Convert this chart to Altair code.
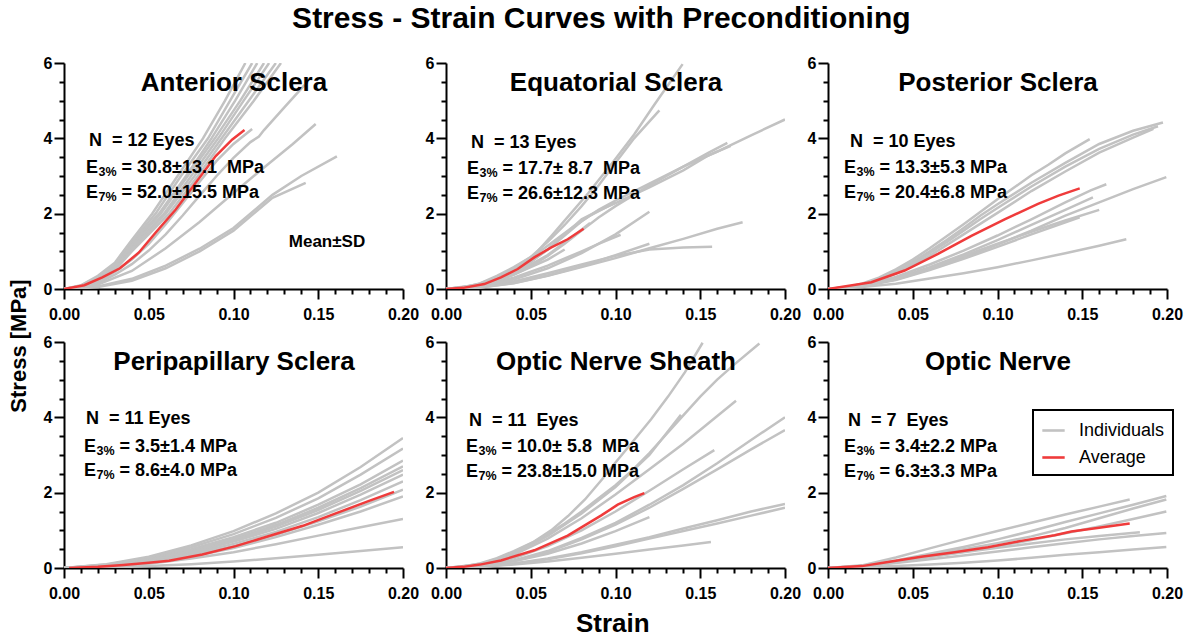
import altair as alt
import pandas as pd

FONT = "Liberation Sans"
GRAY = "#c2c2c2"
RED = "#ef3b3b"
KINDS = ["Individuals", "Average"]

X_TICKS = [0.00, 0.01, 0.02, 0.03, 0.04, 0.05, 0.06, 0.07, 0.08, 0.09, 0.10,
           0.11, 0.12, 0.13, 0.14, 0.15, 0.16, 0.17, 0.18, 0.19, 0.20]
Y_TICKS = [0, 0.5, 1, 1.5, 2, 2.5, 3, 3.5, 4, 4.5, 5, 5.5, 6]

# ---------------- Anterior Sclera ----------------
ANTERIOR_IND = [
    [[0, 0], [0.01, 0.1], [0.02, 0.35], [0.03, 0.7], [0.04, 1.3], [0.052, 2.0], [0.067, 3.0], [0.082, 4.0], [0.095, 5.0], [0.107, 6.0]],
    [[0, 0], [0.01, 0.09], [0.02, 0.32], [0.03, 0.66], [0.04, 1.25], [0.054, 2.0], [0.069, 3.0], [0.085, 4.0], [0.098, 5.0], [0.111, 6.0]],
    [[0, 0], [0.01, 0.08], [0.02, 0.3], [0.03, 0.62], [0.04, 1.2], [0.056, 2.0], [0.072, 3.0], [0.087, 4.0], [0.101, 5.0], [0.114, 6.0]],
    [[0, 0], [0.01, 0.07], [0.02, 0.27], [0.03, 0.58], [0.04, 1.15], [0.057, 2.0], [0.073, 3.0], [0.089, 4.0], [0.104, 5.0], [0.118, 6.0]],
    [[0, 0], [0.01, 0.07], [0.02, 0.25], [0.03, 0.55], [0.04, 1.1], [0.059, 2.0], [0.075, 3.0], [0.091, 4.0], [0.106, 5.0], [0.121, 6.0]],
    [[0, 0], [0.01, 0.06], [0.02, 0.24], [0.03, 0.52], [0.04, 1.05], [0.06, 2.0], [0.077, 3.0], [0.093, 4.0], [0.109, 5.0], [0.125, 6.0]],
    [[0, 0], [0.01, 0.06], [0.02, 0.22], [0.03, 0.5], [0.04, 1.0], [0.062, 2.0], [0.079, 3.0], [0.095, 4.0], [0.112, 5.0], [0.128, 6.0]],
    [[0, 0], [0.01, 0.05], [0.02, 0.2], [0.03, 0.45], [0.04, 0.78], [0.05, 1.2], [0.06, 1.72], [0.07, 2.28], [0.08, 2.85], [0.09, 3.4], [0.1, 3.85], [0.111, 4.25]],
    [[0, 0], [0.01, 0.04], [0.02, 0.16], [0.03, 0.38], [0.04, 0.66], [0.05, 1.02], [0.06, 1.45], [0.07, 1.95], [0.08, 2.48], [0.09, 3.0], [0.1, 3.48], [0.11, 3.9], [0.115, 4.05], [0.118, 4.22], [0.13, 4.82], [0.142, 5.42]],
    [[0, 0], [0.02, 0.12], [0.04, 0.48], [0.06, 1.08], [0.08, 1.78], [0.1, 2.55], [0.12, 3.3], [0.135, 3.85], [0.1485, 4.38]],
    [[0, 0], [0.02, 0.07], [0.04, 0.27], [0.06, 0.62], [0.08, 1.07], [0.1, 1.62], [0.123, 2.5], [0.14, 3.0], [0.161, 3.52]],
    [[0, 0], [0.02, 0.05], [0.04, 0.22], [0.06, 0.55], [0.08, 1.0], [0.1, 1.55], [0.123, 2.42], [0.1426, 2.82]],
]
ANTERIOR_AVG = [[0, 0], [0.012, 0.1], [0.0226, 0.31], [0.033, 0.55], [0.0442, 0.97], [0.0541, 1.5], [0.0659, 2.11],
                [0.0777, 2.82], [0.0895, 3.53], [0.0993, 3.97], [0.1065, 4.22]]

# ---------------- Equatorial Sclera ----------------
EQUATORIAL_IND = [
    [[0, 0], [0.01, 0.04], [0.02, 0.15], [0.03, 0.35], [0.04, 0.58], [0.052, 0.9], [0.062, 1.4], [0.072, 1.92], [0.084, 2.55], [0.099, 3.4], [0.111, 4.1], [0.123, 4.9], [0.1396, 5.97]],
    [[0, 0], [0.01, 0.04], [0.02, 0.14], [0.03, 0.32], [0.04, 0.55], [0.05, 0.85], [0.06, 1.25], [0.07, 1.7], [0.08, 2.2], [0.09, 2.75], [0.1, 3.35], [0.111, 4.0], [0.1259, 4.74]],
    [[0, 0], [0.01, 0.03], [0.02, 0.1], [0.03, 0.25], [0.04, 0.45], [0.05, 0.72], [0.06, 1.05], [0.07, 1.42], [0.08, 1.8], [0.09, 2.1], [0.1, 2.35], [0.12, 2.8], [0.14, 3.25], [0.16, 3.65], [0.18, 4.08], [0.2, 4.5]],
    [[0, 0], [0.02, 0.1], [0.03, 0.24], [0.04, 0.45], [0.05, 0.72], [0.06, 1.05], [0.07, 1.45], [0.08, 1.85], [0.09, 2.08], [0.1, 2.28], [0.12, 2.7], [0.14, 3.15], [0.155, 3.55], [0.168, 3.8]],
    [[0, 0], [0.02, 0.08], [0.03, 0.2], [0.04, 0.38], [0.05, 0.6], [0.06, 0.88], [0.07, 1.2], [0.08, 1.55], [0.09, 1.9], [0.1, 2.2], [0.12, 2.75], [0.14, 3.25], [0.155, 3.62], [0.166, 3.88]],
    [[0, 0], [0.02, 0.04], [0.04, 0.15], [0.06, 0.35], [0.08, 0.58], [0.1, 0.82], [0.12, 1.08], [0.14, 1.33], [0.16, 1.6], [0.175, 1.77]],
    [[0, 0], [0.02, 0.05], [0.04, 0.2], [0.06, 0.42], [0.08, 0.65], [0.1, 0.88], [0.12, 1.05], [0.14, 1.1], [0.157, 1.12]],
    [[0, 0], [0.02, 0.08], [0.04, 0.3], [0.06, 0.62], [0.08, 1.0], [0.09, 1.2], [0.103, 1.44]],
    [[0, 0], [0.02, 0.12], [0.04, 0.5], [0.06, 1.15], [0.075, 1.65], [0.085, 1.95], [0.1, 2.3]],
    [[0, 0], [0.02, 0.1], [0.04, 0.4], [0.06, 0.9], [0.075, 1.4], [0.085, 1.75]],
    [[0, 0], [0.02, 0.06], [0.04, 0.25], [0.06, 0.55], [0.08, 0.95], [0.1, 1.45], [0.12, 2.05]],
    [[0, 0], [0.02, 0.04], [0.04, 0.16], [0.06, 0.36], [0.08, 0.6], [0.1, 0.9], [0.12, 1.2]],
    [[0, 0], [0.02, 0.1], [0.04, 0.38], [0.06, 0.78], [0.07, 1.05]],
]
EQUATORIAL_AVG = [[0, 0], [0.01, 0.03], [0.0226, 0.13], [0.0324, 0.31], [0.0423, 0.53], [0.0521, 0.84],
                  [0.0619, 1.1], [0.0718, 1.32], [0.0812, 1.6]]

# ---------------- Posterior Sclera ----------------
POSTERIOR_IND = [
    [[0, 0], [0.01, 0.04], [0.02, 0.14], [0.03, 0.3], [0.04, 0.52], [0.05, 0.78], [0.06, 1.08], [0.07, 1.4], [0.08, 1.72], [0.09, 2.05], [0.1, 2.38], [0.11, 2.7], [0.12, 3.02], [0.13, 3.3], [0.14, 3.6], [0.1544, 3.98]],
    [[0, 0], [0.01, 0.03], [0.02, 0.12], [0.03, 0.27], [0.04, 0.47], [0.05, 0.72], [0.06, 1.0], [0.07, 1.3], [0.08, 1.62], [0.09, 1.95], [0.1, 2.25], [0.12, 2.82], [0.14, 3.35], [0.16, 3.85], [0.18, 4.2], [0.1976, 4.42]],
    [[0, 0], [0.01, 0.03], [0.02, 0.11], [0.03, 0.25], [0.04, 0.44], [0.05, 0.68], [0.06, 0.95], [0.07, 1.24], [0.08, 1.55], [0.09, 1.86], [0.1, 2.15], [0.12, 2.72], [0.14, 3.25], [0.16, 3.72], [0.18, 4.1], [0.1947, 4.32]],
    [[0, 0], [0.02, 0.1], [0.04, 0.4], [0.06, 0.88], [0.08, 1.45], [0.1, 2.02], [0.12, 2.6], [0.14, 3.12], [0.16, 3.62], [0.18, 4.02], [0.192, 4.25]],
    [[0, 0], [0.02, 0.09], [0.04, 0.32], [0.06, 0.65], [0.08, 1.02], [0.1, 1.42], [0.12, 1.85], [0.14, 2.3], [0.155, 2.62], [0.1642, 2.78]],
    [[0, 0], [0.02, 0.08], [0.04, 0.28], [0.06, 0.58], [0.08, 0.92], [0.1, 1.3], [0.12, 1.7], [0.14, 2.1], [0.1563, 2.43]],
    [[0, 0], [0.02, 0.07], [0.04, 0.25], [0.06, 0.52], [0.08, 0.84], [0.1, 1.18], [0.12, 1.55], [0.14, 1.95], [0.16, 2.3], [0.18, 2.65], [0.1996, 2.97]],
    [[0, 0], [0.02, 0.07], [0.04, 0.24], [0.06, 0.5], [0.08, 0.8], [0.1, 1.12], [0.12, 1.45], [0.1485, 1.9]],
    [[0, 0], [0.02, 0.08], [0.04, 0.27], [0.06, 0.55], [0.08, 0.88], [0.1, 1.2], [0.12, 1.52], [0.14, 1.82], [0.16, 2.1]],
    [[0, 0], [0.02, 0.05], [0.04, 0.14], [0.06, 0.28], [0.08, 0.42], [0.1, 0.58], [0.12, 0.76], [0.14, 0.95], [0.16, 1.15], [0.176, 1.32]],
]
POSTERIOR_AVG = [[0, 0], [0.0256, 0.18], [0.0452, 0.49], [0.0649, 0.93], [0.0846, 1.41], [0.1042, 1.85],
                 [0.1239, 2.26], [0.136, 2.48], [0.1485, 2.67]]

# ---------------- Peripapillary Sclera ----------------
PERI_STRAIN = [0, 0.025, 0.05, 0.075, 0.1, 0.125, 0.15, 0.175, 0.2]
PERI_STRESS = [
    [0, 0.1, 0.3, 0.6, 0.98, 1.45, 2.0, 2.68, 3.45],
    [0, 0.09, 0.27, 0.55, 0.9, 1.33, 1.85, 2.48, 3.17],
    [0, 0.08, 0.24, 0.5, 0.82, 1.2, 1.68, 2.22, 2.85],
    [0, 0.07, 0.22, 0.46, 0.77, 1.14, 1.6, 2.12, 2.7],
    [0, 0.07, 0.21, 0.44, 0.74, 1.1, 1.54, 2.05, 2.6],
    [0, 0.06, 0.19, 0.41, 0.7, 1.04, 1.46, 1.95, 2.48],
    [0, 0.06, 0.18, 0.38, 0.64, 0.96, 1.35, 1.8, 2.3],
    [0, 0.05, 0.16, 0.34, 0.58, 0.88, 1.24, 1.63, 2.08],
    [0, 0.05, 0.14, 0.3, 0.53, 0.82, 1.15, 1.5, 1.9],
    [0, 0.03, 0.11, 0.25, 0.42, 0.63, 0.86, 1.08, 1.3],
    [0, 0.01, 0.05, 0.1, 0.17, 0.26, 0.35, 0.45, 0.55],
]
PERI_AVG = [[0.003, 0], [0.02, 0.03], [0.035, 0.08], [0.05, 0.14], [0.062, 0.19], [0.0816, 0.36], [0.1013, 0.58],
            [0.121, 0.85], [0.1409, 1.12], [0.1603, 1.45], [0.18, 1.78], [0.1947, 2.02]]

# ---------------- Optic Nerve Sheath ----------------
ONS_IND = [
    [[0, 0], [0.01, 0.04], [0.02, 0.12], [0.03, 0.26], [0.04, 0.45], [0.052, 0.7], [0.062, 1.0], [0.072, 1.38], [0.082, 1.82], [0.092, 2.35], [0.1, 2.8], [0.111, 3.4], [0.121, 3.95], [0.131, 4.55], [0.141, 5.2], [0.1514, 5.98]],
    [[0, 0], [0.01, 0.04], [0.02, 0.11], [0.03, 0.24], [0.04, 0.42], [0.05, 0.65], [0.06, 0.9], [0.07, 1.18], [0.08, 1.5], [0.09, 1.85], [0.1, 2.2], [0.11, 2.6], [0.12, 3.05], [0.13, 3.55], [0.14, 4.05], [0.15, 4.55], [0.16, 5.0], [0.17, 5.4], [0.1849, 5.96]],
    [[0, 0], [0.02, 0.1], [0.04, 0.38], [0.06, 0.85], [0.08, 1.45], [0.1, 2.15], [0.12, 3.0], [0.1386, 4.07]],
    [[0, 0], [0.02, 0.09], [0.04, 0.35], [0.06, 0.78], [0.08, 1.32], [0.1, 1.95], [0.12, 2.62], [0.14, 3.3], [0.155, 3.85], [0.1711, 4.44]],
    [[0, 0], [0.02, 0.07], [0.04, 0.26], [0.06, 0.58], [0.08, 1.0], [0.1, 1.5], [0.12, 2.05], [0.14, 2.62], [0.1583, 3.13]],
    [[0, 0], [0.02, 0.06], [0.04, 0.2], [0.06, 0.45], [0.08, 0.8], [0.1, 1.2], [0.12, 1.68], [0.14, 2.2], [0.16, 2.78], [0.18, 3.4], [0.2, 4.0]],
    [[0, 0], [0.02, 0.05], [0.04, 0.18], [0.06, 0.42], [0.08, 0.76], [0.1, 1.15], [0.12, 1.6], [0.14, 2.1], [0.16, 2.62], [0.18, 3.15], [0.2, 3.66]],
    [[0, 0], [0.02, 0.04], [0.04, 0.12], [0.06, 0.25], [0.08, 0.42], [0.1, 0.62], [0.12, 0.82], [0.14, 1.05], [0.16, 1.27], [0.18, 1.5], [0.2, 1.7]],
    [[0, 0], [0.02, 0.03], [0.04, 0.11], [0.06, 0.23], [0.08, 0.39], [0.1, 0.58], [0.12, 0.78], [0.14, 0.98], [0.16, 1.18], [0.18, 1.39], [0.2, 1.6]],
    [[0, 0], [0.02, 0.03], [0.04, 0.09], [0.06, 0.17], [0.08, 0.27], [0.1, 0.38], [0.12, 0.49], [0.14, 0.6], [0.1563, 0.69]],
    [[0, 0], [0.02, 0.05], [0.04, 0.18], [0.06, 0.38], [0.08, 0.65], [0.1, 0.98], [0.12, 1.35]],
]
ONS_AVG = [[0, 0], [0.01, 0.03], [0.02, 0.09], [0.0324, 0.2], [0.0521, 0.47], [0.0718, 0.86], [0.0914, 1.39],
           [0.1013, 1.68], [0.111, 1.88], [0.117, 1.99]]

# ---------------- Optic Nerve ----------------
ON_IND = [
    [[0, 0], [0.02, 0.07], [0.04, 0.28], [0.06, 0.52], [0.08, 0.76], [0.1, 0.98], [0.12, 1.2], [0.14, 1.42], [0.16, 1.63], [0.178, 1.82]],
    [[0, 0], [0.02, 0.05], [0.04, 0.2], [0.06, 0.38], [0.08, 0.56], [0.1, 0.76], [0.12, 0.98], [0.14, 1.22], [0.16, 1.45], [0.18, 1.68], [0.1996, 1.91]],
    [[0, 0], [0.02, 0.05], [0.04, 0.18], [0.06, 0.34], [0.08, 0.5], [0.1, 0.66], [0.12, 0.84], [0.14, 1.06], [0.16, 1.32], [0.18, 1.58], [0.1996, 1.82]],
    [[0, 0], [0.02, 0.04], [0.04, 0.15], [0.06, 0.29], [0.08, 0.43], [0.1, 0.58], [0.12, 0.74], [0.14, 0.92], [0.16, 1.1], [0.18, 1.3], [0.1996, 1.5]],
    [[0, 0], [0.02, 0.05], [0.04, 0.17], [0.06, 0.3], [0.08, 0.42], [0.1, 0.54], [0.12, 0.65], [0.14, 0.76], [0.16, 0.85], [0.184, 0.95]],
    [[0, 0], [0.02, 0.04], [0.04, 0.13], [0.06, 0.23], [0.08, 0.33], [0.1, 0.44], [0.12, 0.55], [0.14, 0.66], [0.16, 0.76], [0.18, 0.85], [0.1996, 0.93]],
    [[0, 0], [0.02, 0.02], [0.04, 0.05], [0.06, 0.09], [0.08, 0.14], [0.1, 0.2], [0.12, 0.27], [0.14, 0.35], [0.16, 0.42], [0.18, 0.49], [0.1996, 0.56]],
]
ON_AVG = [[0, 0], [0.02, 0.05], [0.0354, 0.16], [0.055, 0.3], [0.0747, 0.42], [0.0944, 0.55], [0.114, 0.72],
          [0.1337, 0.87], [0.1436, 0.97], [0.16, 1.07], [0.178, 1.18]]

# ---------------- Text ----------------
PANEL_TITLES = ["Anterior Sclera", "Equatorial Sclera", "Posterior Sclera",
                "Peripapillary Sclera", "Optic Nerve Sheath", "Optic Nerve"]
N_TEXT = ["N\u00a0\u00a0= 12 Eyes", "N\u00a0\u00a0= 13 Eyes", "N\u00a0\u00a0= 10 Eyes",
          "N\u00a0\u00a0= 11 Eyes", "N\u00a0\u00a0= 11\u00a0\u00a0Eyes", "N\u00a0\u00a0= 7\u00a0\u00a0Eyes"]
E3_TEXT = ["= 30.8\u00b113.1\u00a0\u00a0MPa", "= 17.7\u00b1\u00a08.7\u00a0\u00a0MPa", "= 13.3\u00b15.3 MPa",
           "= 3.5\u00b11.4 MPa", "= 10.0\u00b1\u00a05.8\u00a0\u00a0MPa", "= 3.4\u00b12.2 MPa"]
E7_TEXT = ["= 52.0\u00b115.5 MPa", "= 26.6\u00b112.3 MPa", "= 20.4\u00b16.8 MPa",
           "= 8.6\u00b14.0 MPa", "= 23.8\u00b115.0 MPa", "= 6.3\u00b13.3 MPa"]

# layout (pixels inside each plot area)
W, H = 339, 226
N_POS = [(25, 78), (25, 80), (22, 79), (22, 77), (23, 79), (20, 79)]
E_X = [22, 21, 16, 20, 20, 16]
E3_Y = [105, 106, 105, 105, 105, 105]
E7_Y = [130, 131, 130, 129, 130, 130]


def pairs_from_grid(strains, stress_rows):
    return [[[s, v] for s, v in zip(strains, row)] for row in stress_rows]


def make_frame(individuals, average):
    rows = []
    for i, curve in enumerate(individuals):
        for j, (s, v) in enumerate(curve):
            rows.append({"curve": f"c{i}", "order": j, "strain": s, "stress": v, "kind": "Individuals"})
    for j, (s, v) in enumerate(average):
        rows.append({"curve": "avg", "order": j, "strain": s, "stress": v, "kind": "Average"})
    return pd.DataFrame(rows)


x_axis = alt.Axis(
    values=X_TICKS, title=None, grid=False, labelOverlap=False, labelFlush=False,
    labelExpr="round(datum.value*100) % 5 == 0 ? format(datum.value, '.2f') : ''",
    tickSize={"condition": {"test": "round(datum.value*100) % 5 == 0", "value": 10}, "value": 5},
    labelPadding=7,
)
y_axis = alt.Axis(
    values=Y_TICKS, title=None, grid=False, labelOverlap=False,
    labelExpr="datum.value % 2 == 0 ? format(datum.value, 'd') : ''",
    tickSize={"condition": {"test": "datum.value % 2 == 0", "value": 10}, "value": 5},
    labelPadding=2,
)


def text_layer(s, x, y, size, align="left", weight="bold", dy=0):
    return alt.Chart(pd.DataFrame({"t": [s]})).mark_text(
        align=align, baseline="middle", font=FONT, fontSize=size, fontWeight=weight,
        color="black", dy=dy,
    ).encode(x=alt.value(x), y=alt.value(y), text="t:N")


def panel(k, individuals, average, legend=False, extra=None):
    df = make_frame(individuals, average)
    leg = None
    if legend:
        leg = alt.Legend(title=None, orient="none", legendX=205, legendY=68,
                         strokeColor="black", fillColor="white", padding=8,
                         labelFont=FONT, labelFontSize=18, labelColor="black",
                         labelOffset=13, rowPadding=5, symbolType="stroke",
                         symbolSize=500, symbolStrokeWidth=2.6)
    color = alt.Color("kind:N", scale=alt.Scale(domain=KINDS, range=[GRAY, RED]),
                      legend=leg, sort=KINDS)
    x = alt.X("strain:Q", scale=alt.Scale(domain=[0, 0.2], nice=False, zero=False), axis=x_axis)
    y = alt.Y("stress:Q", scale=alt.Scale(domain=[0, 6], nice=False), axis=y_axis)
    base = alt.Chart(df)
    gray = base.transform_filter(alt.datum.kind == "Individuals").mark_line(
        strokeWidth=2.5, clip=True).encode(x=x, y=y, detail="curve:N", order="order:Q", color=color)
    red = base.transform_filter(alt.datum.kind == "Average").mark_line(
        strokeWidth=2.5, clip=True).encode(x=x, y=y, order="order:Q", color=color)
    nx, ny = N_POS[k]
    ex = E_X[k]
    layers = [
        gray, red,
        text_layer(PANEL_TITLES[k], 170, 20, 26, align="center"),
        text_layer(N_TEXT[k], nx, ny, 18),
        text_layer("E", ex, E3_Y[k], 18),
        text_layer("3%", ex + 12.5, E3_Y[k], 12.5, dy=4),
        text_layer(E3_TEXT[k], ex + 35.5, E3_Y[k], 18),
        text_layer("E", ex, E7_Y[k], 18),
        text_layer("7%", ex + 12.5, E7_Y[k], 12.5, dy=4),
        text_layer(E7_TEXT[k], ex + 35.5, E7_Y[k], 18),
    ]
    if extra:
        layers.append(extra)
    return alt.layer(*layers).properties(width=W, height=H)


p1 = panel(0, ANTERIOR_IND, ANTERIOR_AVG, extra=text_layer("Mean\u00b1SD", 263, 179, 17, align="center"))
p2 = panel(1, EQUATORIAL_IND, EQUATORIAL_AVG)
p3 = panel(2, POSTERIOR_IND, POSTERIOR_AVG)
p4 = panel(3, pairs_from_grid(PERI_STRAIN, PERI_STRESS), PERI_AVG)
p5 = panel(4, ONS_IND, ONS_AVG)
p6 = panel(5, ON_IND, ON_AVG, legend=True)

grid = alt.concat(
    p1, p2, p3, p4, p5, p6, columns=3, spacing={"row": 53, "column": 43}, bounds="flush",
    title=alt.TitleParams("Strain", orient="bottom", anchor="middle", font=FONT,
                          fontSize=26, fontWeight="bold", color="black", offset=10),
).resolve_scale(color="independent").resolve_legend(color="independent")

mid = alt.hconcat(grid, title=alt.TitleParams("Stress [MPa]", orient="left", anchor="middle", font=FONT,
                                              fontSize=22, fontWeight="bold", color="black", offset=12)
                  ).resolve_scale(color="independent").resolve_legend(color="independent")

chart = alt.vconcat(mid, title=alt.TitleParams("Stress - Strain Curves with Preconditioning", anchor="middle",
                                               font=FONT, fontSize=30, fontWeight="bold", color="black",
                                               offset=21, dx=6)
                    ).resolve_scale(color="independent").resolve_legend(color="independent")

chart = chart.properties(padding={"left": 8, "top": 4, "right": 5, "bottom": 0}, background="white")
chart = chart.configure_view(stroke=None).configure_axis(
    domainColor="black", domainWidth=2, tickColor="black", tickWidth=2,
    labelFont=FONT, labelFontSize=16, labelFontWeight="bold", labelColor="black",
)

try:
    c2 = chart.configure_legend(strokeWidth=2)
    c2.to_dict()
    chart = c2
except Exception:
    pass

chart.save("out.html", embed_options={"renderer": "svg", "actions": False})
